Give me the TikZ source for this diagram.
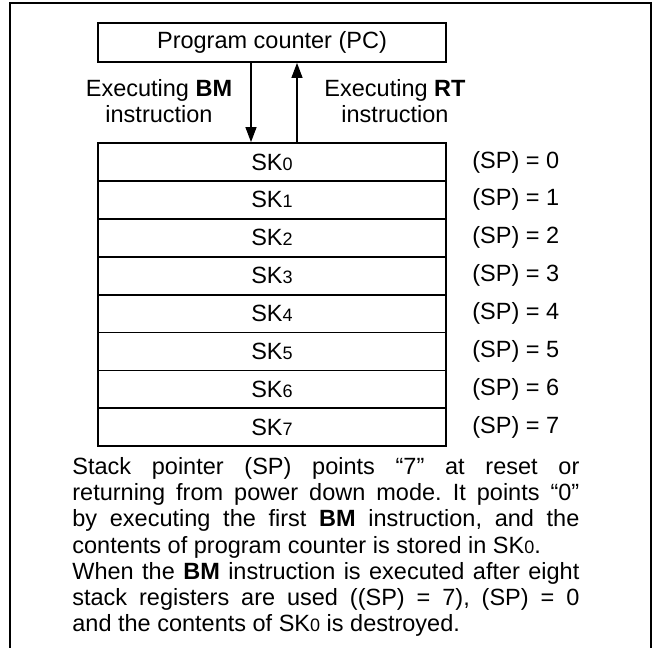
\documentclass[tikz,border=0pt]{standalone}
\usepackage{fontspec}
\setmainfont{Liberation Sans}
\frenchspacing
\usetikzlibrary{arrows.meta,calc}
\newcommand{\skreg}[1]{SK{\fontsize{9}{10}\selectfont #1}}

\begin{document}
\begin{tikzpicture}[x=0.5pt, y=0.5pt, >={Triangle[length=7.5pt,width=5.5pt]},
  every node/.style={font=\fontsize{11.75}{13}\selectfont},
  cell/.style={draw, line width=0.9pt, minimum width=174pt, minimum height=18.95pt, inner sep=0pt}]
  \useasboundingbox (0,0) rectangle (654,-648);
  \draw[line width=1pt] (10,-648) -- (10,-3) -- (651,-3) -- (651,-648);
  \node[cell, minimum height=19.5pt] (pc) at (272,-42.5) {Program counter (PC)};
  \foreach \i in {0,...,7} {
    \node[cell] (sk\i) at (272,{-143-37.9*(\i+0.5)}) {\skreg{\i}};
    \node[anchor=west, inner sep=0pt] (sp\i) at (472,{-143-37.9*(\i+0.5)}) {(SP) = \i};
  }
  \draw[->, line width=0.6pt] ([xshift=-10.5pt]pc.south) -- ([xshift=-10.5pt]sk0.north);
  \draw[->, line width=0.6pt] ([xshift=12.5pt]sk0.north) -- ([xshift=12.5pt]pc.south);
  \node[align=center] (bm) at (159,-101.5) {Executing \textbf{BM}\\instruction};
  \node[align=center] (rt) at (395,-101.5) {Executing \textbf{RT}\\instruction};
  \node[anchor=north west, inner sep=0pt, text width=253.5pt, align=justify,
        font=\fontsize{11.75}{13.1}\selectfont] (note) at (72,-457)
    {Stack pointer (SP) points “7” at reset or\linebreak
     returning from power down mode. It points “0”\linebreak
     by executing the first \textbf{BM} instruction, and the\linebreak
     contents of program counter is stored in \skreg{0}.\\
     When the \textbf{BM} instruction is executed after eight\linebreak
     stack registers are used ((SP) = 7), (SP) = 0\linebreak
     and the contents of \skreg{0} is destroyed.};
\end{tikzpicture}
\end{document}
